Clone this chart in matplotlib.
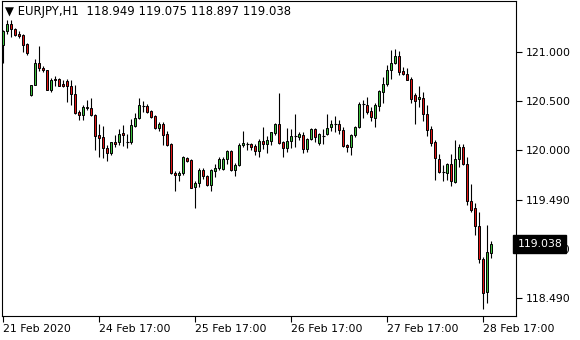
import matplotlib
matplotlib.use("Agg")
import matplotlib.pyplot as plt
from matplotlib.patches import Rectangle

# EURJPY H1 candles
opens = [121.07, 121.21, 121.29, 121.23, 121.18, 121.17, 121.08, 120.56, 120.66, 120.89,
         120.84, 120.82, 120.61, 120.72, 120.72, 120.67, 120.70, 120.65, 120.57, 120.39,
         120.36, 120.44, 120.43, 120.36, 120.15, 120.13, 120.02, 119.97, 120.08, 120.08,
         120.17, 120.08, 120.08, 120.24, 120.33, 120.45, 120.45, 120.40, 120.35, 120.22,
         120.27, 120.16, 120.06, 119.76, 119.74, 119.76, 119.92, 119.90, 119.62, 119.66,
         119.80, 119.73, 119.64, 119.79, 119.82, 119.81, 119.91, 119.99, 119.80, 119.85,
         120.05, 120.06, 120.06, 120.04, 119.99, 120.09, 120.06, 120.09, 120.17, 120.26,
         120.08, 120.02, 120.09, 120.14, 120.13, 120.15, 120.01, 120.11, 120.21, 120.07,
         120.14, 120.16, 120.23, 120.27, 120.27, 120.20, 120.05, 120.03, 120.15, 120.23,
         120.47, 120.46, 120.40, 120.33, 120.45, 120.59, 120.67, 120.82, 120.89, 120.96,
         120.81, 120.78, 120.72, 120.56, 120.52, 120.53, 120.37, 120.21, 120.08, 119.91,
         119.78, 119.77, 119.86, 119.67, 119.91, 120.03, 119.86, 119.48, 119.41, 119.22,
         118.89, 118.55, 118.949]
highs = [121.22, 121.33, 121.33, 121.24, 121.21, 121.18, 121.09, 120.66, 120.93, 121.06,
         120.86, 120.82, 120.73, 120.75, 120.73, 120.71, 120.72, 120.71, 120.66, 120.41,
         120.46, 120.51, 120.53, 120.37, 120.26, 120.24, 120.05, 120.08, 120.15, 120.21,
         120.25, 120.16, 120.32, 120.38, 120.53, 120.50, 120.47, 120.41, 120.36, 120.29,
         120.29, 120.19, 120.07, 119.79, 119.79, 119.94, 119.93, 119.91, 119.68, 119.82,
         119.82, 119.74, 119.81, 119.86, 119.93, 119.93, 120.00, 120.00, 119.87, 120.07,
         120.19, 120.08, 120.07, 120.06, 120.11, 120.23, 120.14, 120.18, 120.28, 120.58,
         120.09, 120.22, 120.21, 120.37, 120.18, 120.18, 120.12, 120.22, 120.22, 120.17,
         120.21, 120.37, 120.31, 120.35, 120.31, 120.23, 120.06, 120.16, 120.24, 120.49,
         120.51, 120.54, 120.44, 120.48, 120.61, 120.74, 120.87, 121.02, 121.03, 121.01,
         120.85, 120.84, 120.74, 120.58, 120.65, 120.59, 120.46, 120.24, 120.10, 119.96,
         119.85, 119.87, 119.96, 120.10, 120.06, 120.06, 119.93, 119.65, 119.46, 119.37,
         118.91, 119.23, 119.075]
lows = [120.89, 121.18, 121.15, 121.16, 121.14, 121.00, 120.97, 120.55, 120.66, 120.81,
        120.80, 120.61, 120.59, 120.65, 120.65, 120.64, 120.49, 120.46, 120.37, 120.31,
        120.31, 120.41, 120.35, 120.00, 119.93, 119.92, 119.89, 119.95, 120.03, 120.05,
        120.04, 120.02, 120.06, 120.23, 120.32, 120.39, 120.38, 120.33, 120.21, 120.19,
        120.05, 120.04, 119.75, 119.58, 119.68, 119.74, 119.88, 119.61, 119.41, 119.62,
        119.70, 119.63, 119.58, 119.72, 119.80, 119.80, 119.86, 119.79, 119.73, 119.84,
        120.03, 120.00, 120.00, 119.95, 119.93, 120.01, 119.97, 120.05, 120.15, 120.06,
        119.93, 119.98, 120.02, 120.03, 120.10, 119.97, 119.98, 120.10, 120.08, 120.05,
        120.06, 120.15, 120.19, 120.18, 120.16, 120.03, 119.98, 119.95, 120.13, 120.22,
        120.33, 120.37, 120.30, 120.23, 120.40, 120.48, 120.65, 120.72, 120.88, 120.77,
        120.77, 120.71, 120.48, 120.27, 120.44, 120.30, 120.14, 120.04, 119.69, 119.76,
        119.68, 119.69, 119.63, 119.66, 119.83, 119.85, 119.44, 119.37, 119.13, 118.85,
        118.38, 118.44, 118.897]
closes = [121.21, 121.29, 121.23, 121.17, 121.16, 121.07, 120.99, 120.66, 120.89, 120.84,
          120.82, 120.61, 120.71, 120.71, 120.65, 120.65, 120.65, 120.57, 120.38, 120.36,
          120.44, 120.43, 120.36, 120.14, 120.12, 120.02, 119.97, 120.08, 120.06, 120.16,
          120.15, 120.08, 120.25, 120.33, 120.46, 120.45, 120.39, 120.34, 120.22, 120.27,
          120.15, 120.05, 119.76, 119.74, 119.76, 119.93, 119.89, 119.61, 119.66, 119.80,
          119.73, 119.64, 119.80, 119.82, 119.91, 119.91, 119.99, 119.80, 119.85, 120.05,
          120.07, 120.06, 120.03, 119.99, 120.09, 120.06, 120.10, 120.18, 120.26, 120.07,
          120.02, 120.09, 120.14, 120.14, 120.16, 120.01, 120.11, 120.21, 120.13, 120.16,
          120.14, 120.22, 120.27, 120.27, 120.20, 120.04, 120.03, 120.15, 120.23, 120.47,
          120.47, 120.39, 120.34, 120.46, 120.60, 120.67, 120.82, 120.89, 120.96, 120.80,
          120.78, 120.71, 120.52, 120.50, 120.54, 120.37, 120.20, 120.07, 119.92, 119.78,
          119.78, 119.86, 119.68, 119.91, 120.03, 119.86, 119.48, 119.39, 119.22, 118.89,
          118.54, 118.96, 119.038]

price_ticks = [121.000, 120.500, 120.000, 119.490, 118.990, 118.490]
price_labels = ["121.000", "120.500", "120.000", "119.490", "118.990", "118.490"]
time_tick_bars = [0, 24, 48, 72, 96, 120]
time_labels = ["21 Feb 2020", "24 Feb 17:00", "25 Feb 17:00",
               "26 Feb 17:00", "27 Feb 17:00", "28 Feb 17:00"]
symbol = "EURJPY,H1"
last_price = closes[-1]

UP = "#3cbe3c"
DOWN = "#e01414"
FONT = "DejaVu Sans"
FS = 7.8

fig = plt.figure(figsize=(5.8, 3.4), dpi=100)
fig.patch.set_facecolor("white")
W, H = 580, 340
ax = fig.add_axes([2 / W, (H - 316) / H, (516 - 2) / W, (316 - 1) / H])
ax.set_facecolor("white")

bw = 0.55
for i, (o, h, l, c) in enumerate(zip(opens, highs, lows, closes)):
    ax.plot([i, i], [l, h], color="black", lw=0.8, solid_capstyle="butt", zorder=2)
    if abs(c - o) < 0.006:
        ax.plot([i - bw / 2 - 0.12, i + bw / 2 + 0.12], [o, o], color="black", lw=0.8,
                solid_capstyle="butt", zorder=3)
    else:
        col = UP if c > o else DOWN
        ax.add_patch(Rectangle((i - bw / 2, min(o, c)), bw, abs(c - o),
                               facecolor=col, edgecolor="black", lw=0.7, zorder=3))

ax.set_xlim(-0.33, 128.2)
ax.set_ylim(118.306, 121.520)

for s in ax.spines.values():
    s.set_color("black")
    s.set_linewidth(0.8)

ax.yaxis.tick_right()
ax.set_yticks(price_ticks)
ax.set_yticklabels(price_labels)
ax.set_xticks(time_tick_bars)
ax.set_xticklabels(time_labels, ha="left")
ax.tick_params(axis="y", direction="out", length=4, width=0.8, pad=3,
               labelsize=FS, labelcolor="black")
ax.tick_params(axis="x", direction="out", length=4, width=0.8, pad=2,
               labelsize=FS, labelcolor="black")
for lab in ax.get_xticklabels() + ax.get_yticklabels():
    lab.set_fontfamily(FONT)

# current price label (covers the 118.990 tick label, as in the reference)
ax.text(1.003, last_price, f"{last_price:.3f}", transform=ax.get_yaxis_transform(),
        ha="left", va="center", color="white", fontsize=FS, family=FONT,
        bbox=dict(boxstyle="square,pad=0.38", facecolor="black", edgecolor="black"),
        clip_on=False, zorder=10)

# header
header = f"\u25bc {symbol}  {opens[-1]:.3f} {highs[-1]:.3f} {lows[-1]:.3f} {closes[-1]:.3f}"
fig.text(5 / W, 1 - 11 / H, header, ha="left", va="center", fontsize=8.4,
         family=FONT, color="black")

fig.savefig("out.png", dpi=100, facecolor="white")
